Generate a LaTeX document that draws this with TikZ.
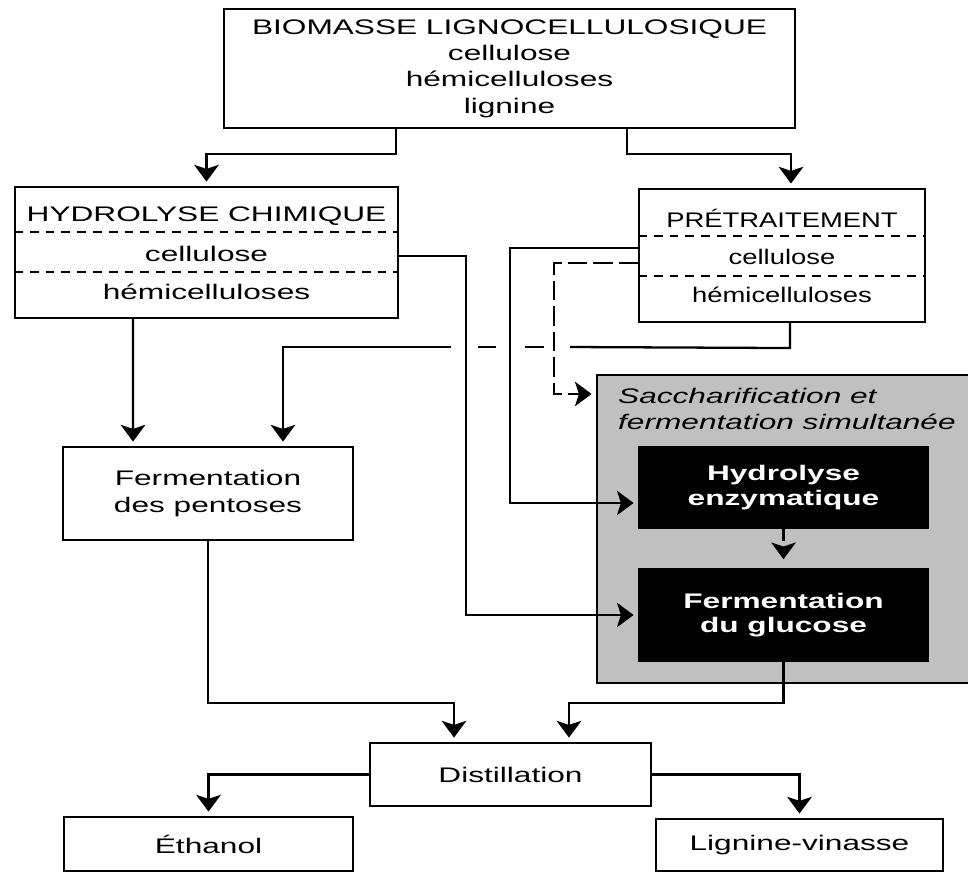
\documentclass[tikz,border=0pt]{standalone}
\usepackage{fontspec}
\setmainfont{Liberation Sans}[FakeStretch=1.5]
\newfontfamily\pretfont{Liberation Sans}[FakeStretch=1.3]
\usepackage{xcolor}
\usetikzlibrary{arrows.meta}
\usetikzlibrary{positioning}
\usetikzlibrary{calc}
\tikzset{>={Stealth[length=9.5pt,width=14pt,inset=2.3pt]}}
\definecolor{ssfgray}{RGB}{192,192,192}
\tikzstyle{box} = [draw, line width=1.2pt, inner sep=0pt, align=center]
\tikzstyle{line} = [draw, line width=1.3pt]

\begin{document}
\begin{tikzpicture}[x=0.02cm, y=-0.02cm,
every node/.style={font=\fontsize{12}{15}\selectfont},
arr/.style={line, ->, shorten >=2.5pt},
rowsep/.style={draw, line width=1pt, dash pattern=on 5pt off 4pt},
blackbox/.style={box, fill=black, text=white,
font=\fontsize{12}{14}\selectfont\bfseries},
pret txt/.style={font=\fontsize{12}{15}\selectfont\pretfont}]
\useasboundingbox (0,0) rectangle (968,873);
%% Boxes
\node[box, minimum width=11.42cm, minimum height=2.38cm] (bio) at (509.5,68.5)
{BIOMASSE LIGNOCELLULOSIQUE\\cellulose\\hémicelluloses\\lignine};
\node[box, minimum width=7.66cm, minimum height=2.62cm] (hyd) at (206.5,252.5) {};
\node (hydT) at ($(hyd.north)+(0,30)$) {HYDROLYSE CHIMIQUE};
\node (hydA) at ($(hyd.north)+(0,68)$) {cellulose};
\node (hydB) at ($(hyd.north)+(0,106)$) {hémicelluloses};
\draw[rowsep] ($(hyd.north west)+(0,46)$) -- ($(hyd.north east)+(0,46)$);
\draw[rowsep] ($(hyd.north west)+(0,86)$) -- ($(hyd.north east)+(0,86)$);
\node[box, minimum width=5.72cm, minimum height=2.66cm] (pret) at (782,255.5) {};
\node[pret txt] (pretT) at ($(pret.north)+(0,30)$) {PRÉTRAITEMENT};
\node[pret txt] (pretA) at ($(pret.north)+(0,69)$) {cellulose};
\node[pret txt] (pretB) at ($(pret.north)+(0,107)$) {hémicelluloses};
\draw[rowsep] ($(pret.north west)+(0,48)$) -- ($(pret.north east)+(0,48)$);
\draw[rowsep] ($(pret.north west)+(0,88)$) -- ($(pret.north east)+(0,88)$);
\node[box, minimum width=5.8cm, minimum height=1.86cm] (pent) at (208,493.5)
{Fermentation\\des pentoses};
\node[box, fill=ssfgray, minimum width=7.56cm, minimum height=6.16cm] (sac) at (786,529) {};
\node[anchor=north west, align=left,
font=\fontsize{12}{15}\selectfont\itshape] (sacT) at ($(sac.north west)+(16,8)$)
{Saccharification et\\fermentation simultanée};
\node[blackbox, minimum width=5.78cm, minimum height=1.62cm] (enz) at (783.5,487.5)
{Hydrolyse\\enzymatique};
\node[blackbox, minimum width=5.78cm, minimum height=1.84cm] (glu) at (783.5,615)
{Fermentation\\du glucose};
\node[box, minimum width=5.62cm, minimum height=1.26cm] (dist) at (510.5,774.5) {Distillation};
\node[box, minimum width=5.78cm, minimum height=1.08cm] (eth) at (208.5,844) {Éthanol};
\node[box, minimum width=5.74cm, minimum height=1.04cm] (lig) at (799.5,845) {Lignine-vinasse};
%% Arrows
\draw[arr] ([xshift=-2.27cm]bio.south) -- ++(0,25) -| (hyd.north);
\draw[arr] ([xshift=2.35cm]bio.south) -- ++(0,25) -| ([xshift=0.18cm]pret.north);
\draw[arr] ([xshift=-1.47cm]hyd.south) -- ([xshift=-1.5cm]pent.north);
%% line hopping over the three verticals
\draw[line] ([xshift=0.16cm]pret.south) -- ++(0,25) -- (570,347);
\draw[line] (544,347) -- (525,347);
\draw[line] (496,347) -- (478,347);
\draw[arr] (451,347) -| ([xshift=1.5cm]pent.north);
\draw[arr] ([yshift=-0.07cm]hyd.east) -- ++(67,0) |- (glu.west);
\draw[arr] ([yshift=0.15cm]pret.west) -- ++(-128,0) |- ([yshift=-0.31cm]enz.west);
\draw[arr, dash pattern=on 11pt off 3.5pt] ([yshift=-0.15cm]pret.west) -- ++(-84,0)
|- ([yshift=-0.4cm]sac.north west);
\draw[arr, dash pattern=on 7pt off 3pt, shorten >=5pt] (enz.south) -- (glu.north);
\draw[arr] (pent.south) -- ++(0,162) -| ([xshift=-1.13cm]dist.north);
\draw[arr] (glu.south) -- ++(0,41) -| ([xshift=1.17cm]dist.north);
\draw[arr] (dist.west) -| (eth.north);
\draw[arr] (dist.east) -| (lig.north);
\end{tikzpicture}
\end{document}
